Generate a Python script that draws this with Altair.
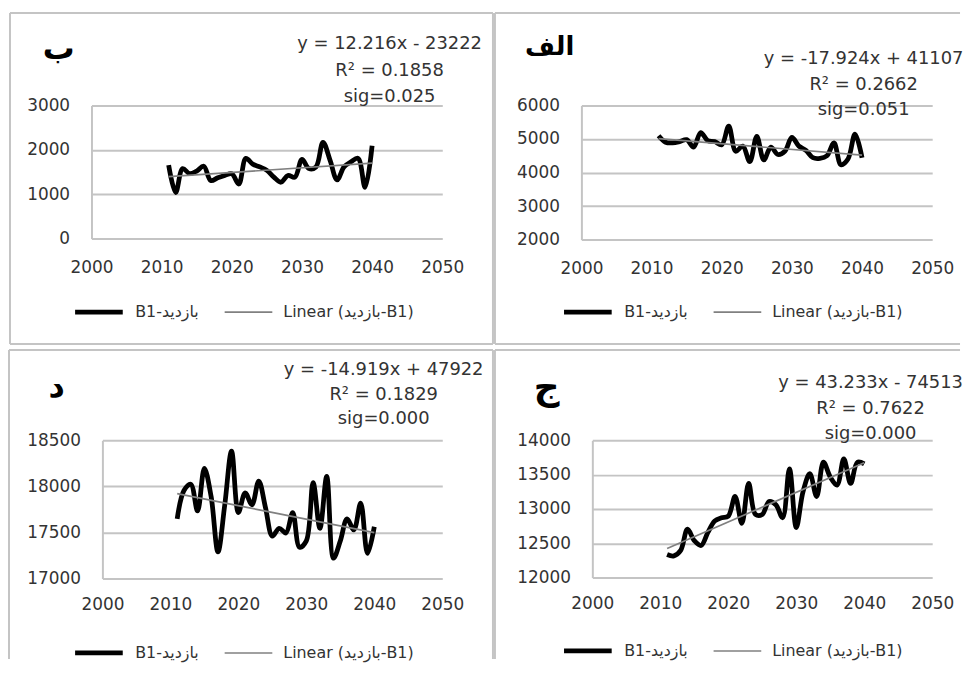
import altair as alt
import pandas as pd

YEARS = list(range(2011, 2041))
VALS_BE = [1654, 1038, 1577, 1462, 1523, 1630, 1308, 1370, 1423, 1462,
           1230, 1808, 1677, 1615, 1538, 1385, 1270, 1423, 1385, 1785,
           1577, 1615, 2170, 1770, 1323, 1615, 1730, 1808, 1154, 2092]
VALS_ALEF = [5096, 4904, 4885, 4923, 4981, 4760, 5192, 4952, 4923, 4827,
             5385, 4635, 4788, 4327, 5077, 4375, 4760, 4538, 4635, 5048,
             4788, 4663, 4442, 4423, 4500, 4885, 4231, 4404, 5144, 4442]
VALS_DAL = [17648, 17955, 18024, 17733, 18195, 17887, 17289, 17800, 18383, 17716,
            17930, 17800, 18058, 17767, 17460, 17545, 17494, 17716, 17340, 17408,
            18041, 17545, 18109, 17220, 17408, 17648, 17528, 17819, 17272, 17562]
VALS_JIM = [12334, 12315, 12395, 12705, 12538, 12467, 12657, 12824, 12871, 12895,
            13181, 12790, 13371, 12919, 12919, 13109, 13062, 12871, 13585, 12729,
            13252, 13514, 13181, 13681, 13466, 13347, 13728, 13371, 13681, 13657]

TITLES = ["ب", "الف", "د", "ج"]
EQUATIONS = ["y = 12.216x - 23222", "y = -17.924x + 41107",
             "y = -14.919x + 47922", "y = 43.233x - 74513"]
R2 = ["R² = 0.1858", "R² = 0.2662", "R² = 0.1829", "R² = 0.7622"]
SIG = ["sig=0.025", "sig=0.051", "sig=0.000", "sig=0.000"]

X_TICKS = [2000, 2010, 2020, 2030, 2040, 2050]
Y_TICKS_BE = [0, 1000, 2000, 3000]
Y_TICKS_ALEF = [2000, 3000, 4000, 5000, 6000]
Y_TICKS_DAL = [17000, 17500, 18000, 18500]
Y_TICKS_JIM = [12000, 12500, 13000, 13500, 14000]

S_DATA = "B1-بازدید"
S_LIN = "Linear (بازدید-B1)"

FONT = "DejaVu Sans"
GRAY = "#c4c4c4"
TXT = "#333333"
ONE = pd.DataFrame({"k": [0]})


def rule(x1, x2, y1, y2):
    return alt.Chart(ONE).mark_rule(color=GRAY, strokeWidth=2).encode(
        x=alt.value(x1), x2=alt.value(x2), y=alt.value(y1), y2=alt.value(y2))


def panel(vals, yticks, idx, g):
    df = pd.DataFrame({"year": YEARS, "value": vals, "series": S_DATA})
    legend = alt.Legend(orient="none", legendX=g["lx"], legendY=g["ly"],
                        direction="horizontal", title=None, symbolType="stroke",
                        symbolSize=2300, labelFont=FONT, labelFontSize=16,
                        labelColor=TXT, labelOffset=10, columnPadding=22,
                        padding=0, labelLimit=400)
    color = alt.Color("series:N", scale=alt.Scale(domain=[S_DATA, S_LIN],
                      range=["#000000", "#808080"]), legend=legend)
    width = alt.StrokeWidth("series:N", scale=alt.Scale(type="point", domain=[S_DATA, S_LIN],
                            range=[4.8, 1.7]), legend=legend)
    x = alt.X("year:Q", scale=alt.Scale(domain=[2000, 2050], range=[g["x0"], g["w"]],
                                        nice=False, zero=False),
              axis=alt.Axis(values=X_TICKS, format="d", labelPadding=g["xpad"],
                            labelFlush=False, title=None))
    y = alt.Y("value:Q", scale=alt.Scale(domain=[yticks[0], yticks[-1]], nice=False, zero=False),
              axis=alt.Axis(values=yticks, format="d", labelPadding=22, offset=-g["x0"],
                            labelFlush=False, title=None))
    base = alt.Chart(df)
    data_line = base.mark_line(interpolate="catmull-rom").encode(
        x=x, y=y, color=color, strokeWidth=width)
    trend = base.transform_regression("year", "value").transform_calculate(
        series=f"'{S_LIN}'").mark_line().encode(x=x, y=y, color=color, strokeWidth=width)
    title_mark = alt.Chart(ONE).mark_text(font=FONT, fontSize=g["tfs"], fontWeight="bold",
                                          color="#000000").encode(
        x=alt.value(g["tx"]), y=alt.value(g["ty"]), text=alt.value(TITLES[idx]))
    ann = alt.Chart(ONE).mark_text(font=FONT, fontSize=18, color=TXT, lineHeight=g["lh"],
                                   align="center", baseline="middle").encode(
        x=alt.value(g["ax"]), y=alt.value(g["ay"]),
        text=alt.value([EQUATIONS[idx], R2[idx], SIG[idx]]))
    rules = [rule(*r) for r in g["rules"]]
    return alt.layer(*rules, data_line, trend, title_mark, ann).properties(
        width=g["w"], height=g["h"])


GEO_BE = dict(w=353, h=134, x0=0, xpad=21, lx=-19, ly=181, tx=-33, ty=-57, tfs=32,
              ax=300, ay=-62, lh=27,
              rules=[(-82, 404, -93, -93), (-82, 404, 240, 240), (-82, -82, -93, 240),
                     (404, 404, -93, 240)])
GEO_ALEF = dict(w=353, h=135, x0=0, xpad=21, lx=-20, ly=181, tx=-32, ty=-59, tfs=26,
                ax=284, ay=-47, lh=26,
                rules=[(-87, 381, -93, -93), (-87, 381, 240, 240), (-87, -87, -93, 240)])
GEO_DAL = dict(w=353, h=139, x0=11, xpad=18, lx=-19, ly=187, tx=-35, ty=-54, tfs=32,
               ax=294, ay=-71, lh=25,
               rules=[(-83, 404, -91, -91), (-83, -83, -91, 220), (404, 404, -91, 220)])
GEO_JIM = dict(w=342, h=138, x0=0, xpad=18, lx=-31, ly=185, tx=-46, ty=-53, tfs=36,
               ax=280, ay=-58, lh=26,
               rules=[(-98, 370, -91, -91), (-98, -98, -91, 220)])

p_be = panel(VALS_BE, Y_TICKS_BE, 0, GEO_BE)
p_alef = panel(VALS_ALEF, Y_TICKS_ALEF, 1, GEO_ALEF)
p_dal = panel(VALS_DAL, Y_TICKS_DAL, 2, GEO_DAL)
p_jim = panel(VALS_JIM, Y_TICKS_JIM, 3, GEO_JIM)

chart = alt.concat(
    p_be, p_alef, p_dal, p_jim,
    columns=2, align="none", bounds="full",
    spacing={"row": 4, "column": 0},
).resolve_scale(
    color="independent", strokeWidth="independent"
).resolve_legend(
    color="independent", strokeWidth="independent"
).properties(
    padding={"left": 0, "top": 2, "right": 0, "bottom": 0},
    background="white",
).configure_view(stroke=None).configure_axis(
    labelFont=FONT, labelFontSize=17, labelColor=TXT, gridColor=GRAY, gridWidth=2,
    domainColor=GRAY, domainWidth=2, ticks=False, tickSize=0, labelOverlap=False,
).configure_axisX(grid=False, domain=False).configure_axisY(grid=True, domain=True)

chart.save("out.html", embed_options={"renderer": "svg", "actions": False})
